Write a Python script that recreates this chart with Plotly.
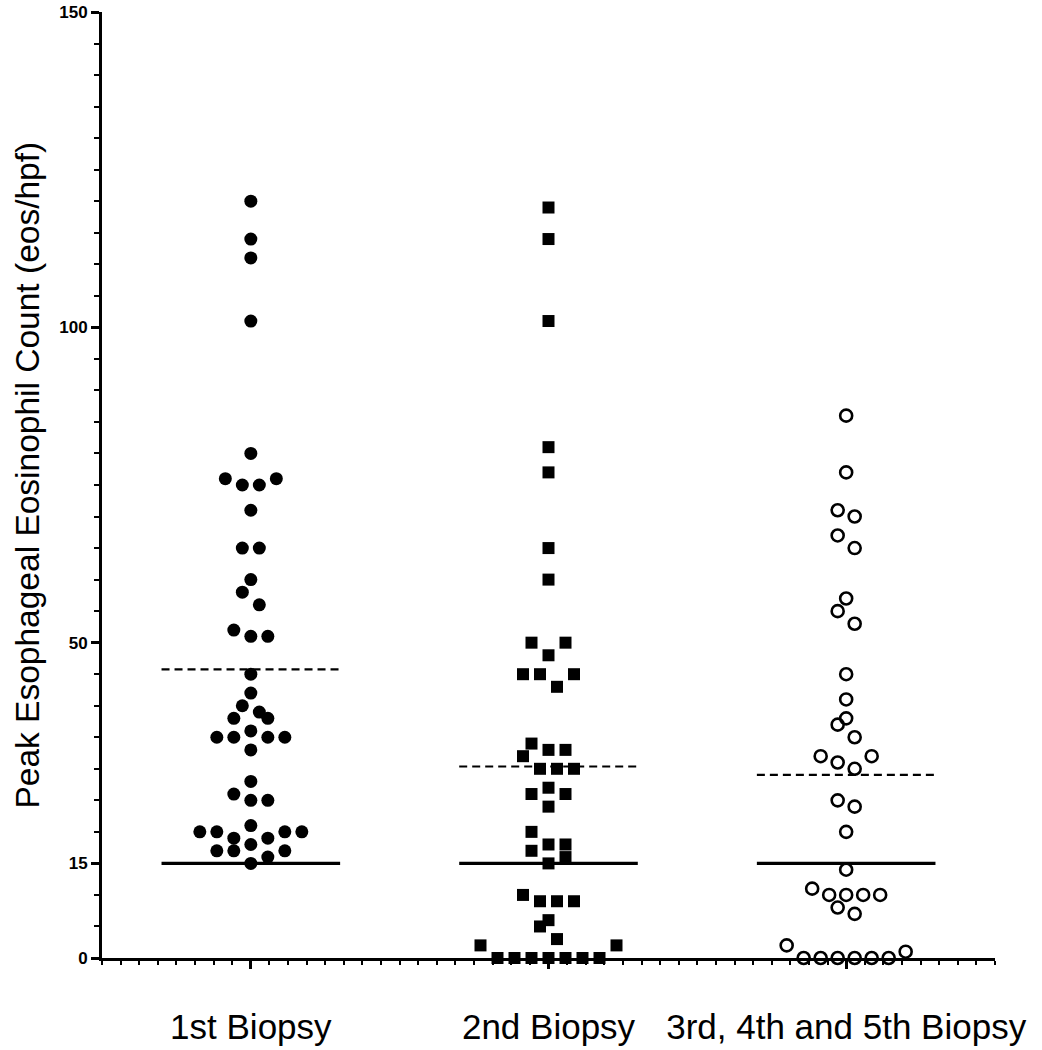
import numpy as np
import plotly.graph_objects as go

# ---------------- data ----------------
categories = ["1st Biopsy", "2nd Biopsy", "3rd, 4th and 5th Biopsy"]

first_biopsy = [120, 114, 111, 101, 80, 76, 76, 75, 75, 71, 65, 65, 60, 58, 56,
                52, 51, 51, 45, 42, 40, 39, 38, 38, 36, 35, 35, 35, 35, 33, 28,
                26, 25, 25, 21, 20, 20, 20, 20, 19, 19, 18, 17, 17, 17, 16, 15]

second_biopsy = [119, 114, 101, 81, 77, 65, 60, 50, 50, 48, 45, 45, 45, 43, 34,
                 33, 33, 32, 30, 30, 30, 27, 26, 26, 24, 20, 18, 18, 17, 16, 15,
                 10, 9, 9, 9, 6, 5, 3, 2, 2, 0, 0, 0, 0, 0, 0, 0]

later_biopsies = [86, 77, 71, 70, 67, 65, 57, 55, 53, 45, 41, 38, 37, 35, 32, 32,
                  31, 30, 25, 24, 20, 14, 11, 10, 10, 10, 10, 8, 7, 2, 1,
                  0, 0, 0, 0, 0, 0]

threshold = 15
y_tick_values = [0, 15, 50, 100, 150]

# ---------------- layout helpers ----------------
W, H = 1042, 1050
ML, MR, MT, MB = 102, 47, 12, 92
X_RANGE = [0.5, 3.5]
PW = W - ML - MR
px_per_unit_x = PW / (X_RANGE[1] - X_RANGE[0])
STEP = 17.0 / px_per_unit_x      # horizontal spacing between neighbouring symbols
HALF_LINE = 0.30                 # half-width of the mean / threshold lines


def row_offsets(values, h=2.5):
    """Prism-like scatter-dot arrangement: close values share a row and are
    spread symmetrically around the column centre."""
    vals = np.asarray(values, dtype=float)
    order = np.argsort(vals, kind="stable")
    offs = np.zeros(len(vals))
    i = 0
    while i < len(order):
        start = vals[order[i]]
        j = i
        while j < len(order) and vals[order[j]] - start < h:
            j += 1
        idx = order[i:j]
        n = len(idx)
        slots = np.arange(n) - (n - 1) / 2.0
        slots = sorted(slots, key=lambda s: (abs(s), -s))
        for k, s in zip(idx, slots):
            offs[k] = s
        i = j
    return offs


groups = [
    (first_biopsy, dict(symbol="circle", size=13, color="black")),
    (second_biopsy, dict(symbol="square", size=12, color="black")),
    (later_biopsies, dict(symbol="circle-open", size=12, color="black",
                          line=dict(width=2.6, color="black"))),
]

fig = go.Figure()

for gi, (vals, mk) in enumerate(groups, start=1):
    offs = row_offsets(vals)
    xs = gi + offs * STEP
    fig.add_trace(go.Scatter(x=xs, y=vals, mode="markers", marker=mk,
                             cliponaxis=False, hoverinfo="y"))
    mean_val = float(np.mean(vals))
    fig.add_trace(go.Scatter(x=[gi - HALF_LINE, gi + HALF_LINE],
                             y=[mean_val, mean_val], mode="lines",
                             line=dict(color="black", width=2.2, dash="8px,5px"),
                             hoverinfo="skip"))
    fig.add_trace(go.Scatter(x=[gi - HALF_LINE, gi + HALF_LINE],
                             y=[threshold, threshold], mode="lines",
                             line=dict(color="black", width=3.2),
                             hoverinfo="skip"))

fig.update_layout(
    width=W, height=H,
    margin=dict(l=ML, r=MR, t=MT, b=MB, pad=0, autoexpand=False),
    paper_bgcolor="white", plot_bgcolor="white",
    showlegend=False,
    font=dict(family="Arial, Liberation Sans, sans-serif", color="black"),
)

fig.update_xaxes(
    range=X_RANGE, automargin=False,
    tickmode="array", tickvals=[1, 2, 3], ticktext=categories,
    ticks="outside", ticklen=8, tickwidth=2.5, tickcolor="black",
    showline=True, linewidth=3, linecolor="black",
    showgrid=False, zeroline=False,
    tickfont=dict(family="Arial, Liberation Sans, sans-serif", size=35, color="black"),
    ticklabelstandoff=28,
    minor=dict(tickmode="linear", tick0=0.5, dtick=1 / 16, ticks="outside",
               ticklen=4, tickwidth=2, tickcolor="black", showgrid=False),
)

fig.update_yaxes(
    range=[0, 150], automargin=False,
    tickmode="array", tickvals=y_tick_values,
    ticktext=[str(v) for v in y_tick_values],
    ticks="outside", ticklen=8, tickwidth=2.5, tickcolor="black",
    showline=True, linewidth=3, linecolor="black",
    showgrid=False, zeroline=False,
    tickfont=dict(family="Arial, Liberation Sans, sans-serif", size=17,
                  color="black", weight="bold"),
    minor=dict(tickmode="linear", tick0=0, dtick=5, ticks="outside",
               ticklen=5, tickwidth=2, tickcolor="black", showgrid=False),
)

fig.add_annotation(
    text="Peak Esophageal Eosinophil Count (eos/hpf)",
    xref="paper", yref="paper",
    x=(28 - ML) / PW, y=0.51,
    xanchor="center", yanchor="middle",
    textangle=-90, showarrow=False,
    font=dict(family="Arial, Liberation Sans, sans-serif", size=33.5, color="black"),
)

fig.write_html(
    "out.html",
    config={"displayModeBar": False},
    post_script="document.body.style.margin='0';document.body.style.overflow='hidden';",
)
